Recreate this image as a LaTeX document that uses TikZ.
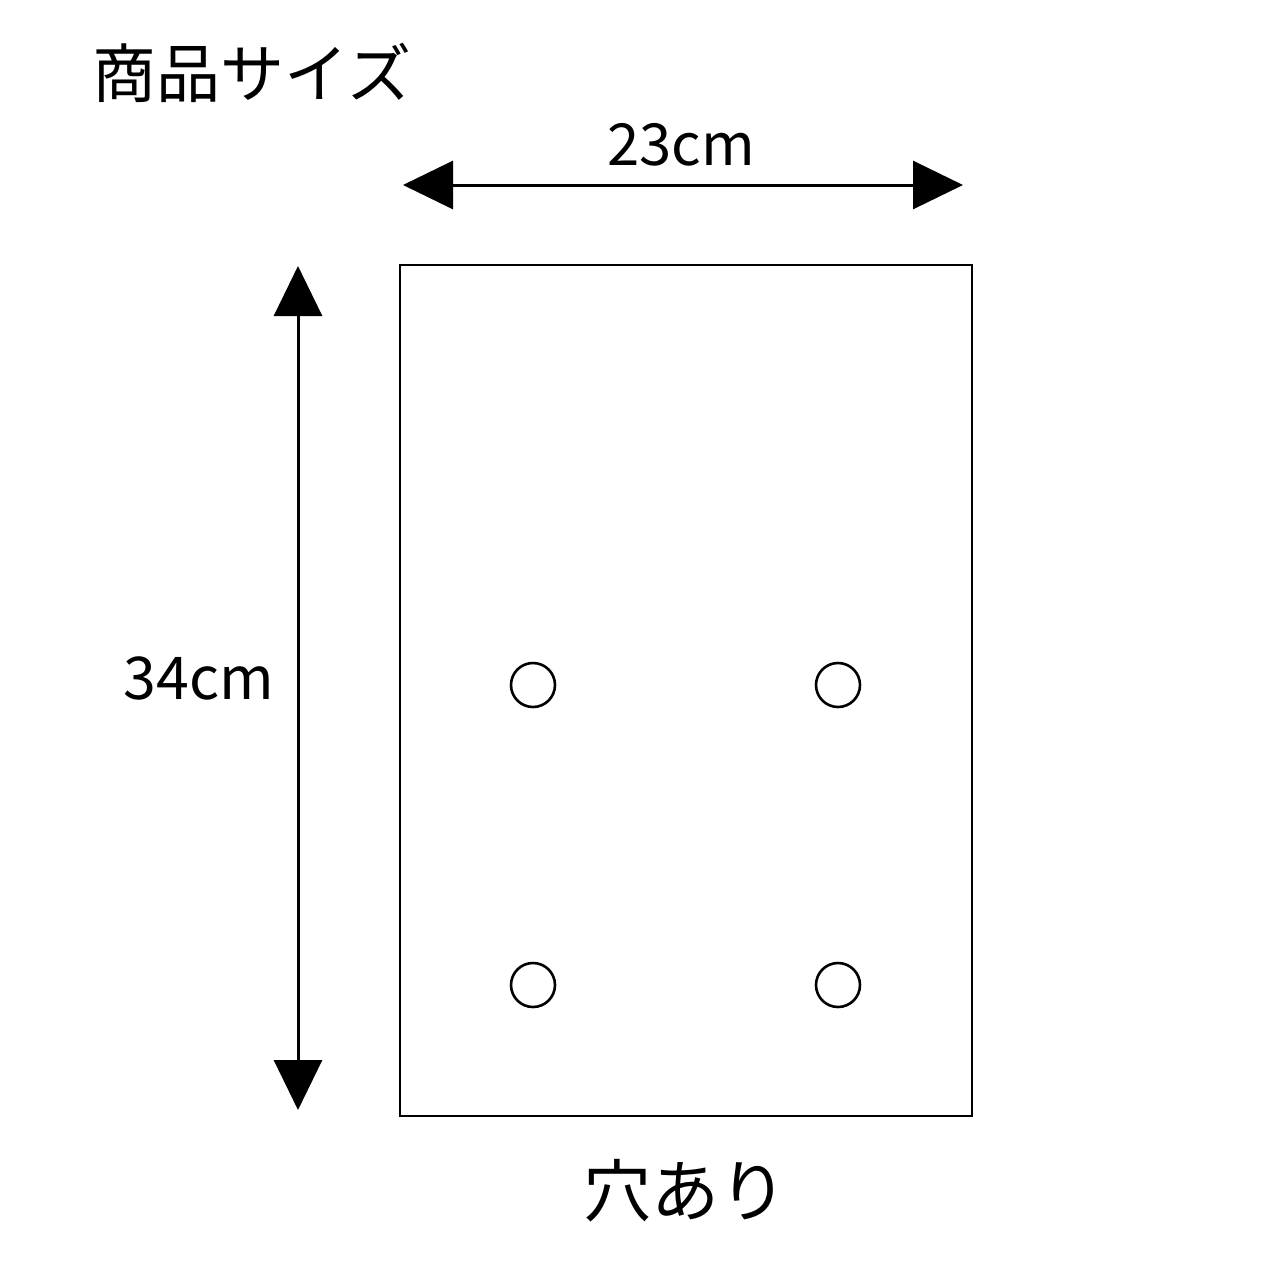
\documentclass[tikz,border=0pt]{standalone}
\usepackage{fontspec}
\setmainfont{Noto Sans CJK JP}
\usetikzlibrary{arrows.meta}
\tikzset{
  dim/.style={line width=3pt, {Triangle[length=50pt,width=48pt]}-{Triangle[length=50pt,width=48pt]}},
  hole/.style={draw, line width=2.6pt, circle, minimum size=44pt, inner sep=0pt},
  lbl/.style={inner sep=0pt, anchor=center},
}
\begin{document}
\begin{tikzpicture}[x=1pt,y=-1pt]
\useasboundingbox (0,0) rectangle (1280,1280);
\fill[white] (0,0) rectangle (1280,1280);
\node[lbl] (title) at (252,73) {\fontsize{64}{76}\selectfont 商品サイズ};
\node[lbl] (w) at (681,145) {\fontsize{58}{68}\selectfont 23cm};
\node[lbl] (h) at (199,678) {\fontsize{59}{70}\selectfont 34cm};
\node[lbl] (note) at (685,1191) {\fontsize{68}{80}\selectfont 穴あり};
\node[draw, line width=2pt, minimum width=572pt, minimum height=851pt, inner sep=0pt] (bag) at (686,690.5) {};
\coordinate (wl) at (403,185);
\coordinate (wr) at (963,185);
\coordinate (ht) at (298,266);
\coordinate (hb) at (298,1110);
\draw[dim] (wl) -- (wr);
\draw[dim] (ht) -- (hb);
\node[hole] (h1) at (533,685) {};
\node[hole] (h2) at (838,685) {};
\node[hole] (h3) at (533,985) {};
\node[hole] (h4) at (838,985) {};
\end{tikzpicture}
\end{document}
